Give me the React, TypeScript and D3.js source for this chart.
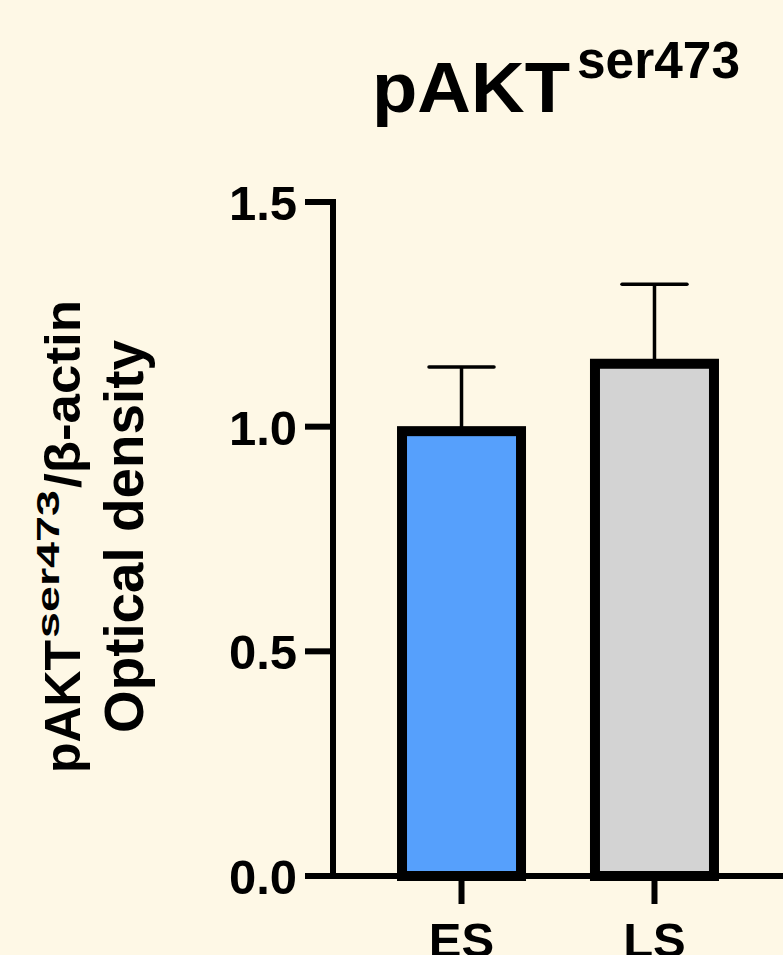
import React from "react";
import * as d3 from "d3";

const categories = ["ES", "LS"];
const means = [0.99, 1.14];
const upperErrors = [1.133, 1.317];
const yTicks = [0.0, 0.5, 1.0, 1.5];
const yTickLabels = ["0.0", "0.5", "1.0", "1.5"];
const barColors = ["#56A0FC", "#D3D3D3"];

const W = 783;
const H = 955;
const FONT = "'Liberation Sans', Arial, Helvetica, sans-serif";

export default function App() {
  const y = d3.scaleLinear().domain([0, 1.5]).range([876, 202]);
  const x = d3.scalePoint<string>().domain(categories).range([333, 783]).padding(0.666);
  const barW = 119;
  const capW = 65;
  const axisX = 333;
  const baseY = y(0);

  return (
    <svg
      width={W}
      height={H}
      style={{ position: "fixed", left: 0, top: 0, display: "block" }}
      fontFamily={FONT}
    >
      <rect x={0} y={0} width={W} height={H} fill="#FEF8E6" />

      {/* Title */}
      <text x={372} y={112} fontSize={71} fontWeight="bold" textLength={198} lengthAdjust="spacingAndGlyphs">
        pAKT
      </text>
      <text x={577} y={78} fontSize={51} fontWeight="bold" textLength={163} lengthAdjust="spacingAndGlyphs">
        ser473
      </text>

      {/* Y axis title, line 1 */}
      <g transform="translate(80,773) rotate(-90)">
        <text x={0} y={0} fontSize={50} fontWeight="bold" textLength={133} lengthAdjust="spacingAndGlyphs">
          pAKT
        </text>
        <text x={135} y={-21} fontSize={32} fontWeight="bold" textLength={148} lengthAdjust="spacingAndGlyphs">
          ser473
        </text>
        <text x={285} y={0} fontSize={50} fontWeight="bold" textLength={188} lengthAdjust="spacingAndGlyphs">
          /β-actin
        </text>
      </g>
      {/* Y axis title, line 2 */}
      <g transform="translate(143,733) rotate(-90)">
        <text x={0} y={0} fontSize={55} fontWeight="bold" textLength={393} lengthAdjust="spacingAndGlyphs">
          Optical density
        </text>
      </g>

      {/* Error bars (upper only) */}
      {categories.map((c, i) => {
        const cx = x(c) as number;
        return (
          <g key={"err" + c} stroke="#000" strokeWidth={3.5} fill="none">
            <line x1={cx} x2={cx} y1={y(means[i])} y2={y(upperErrors[i])} />
            <line x1={cx - capW / 2} x2={cx + capW / 2} y1={y(upperErrors[i])} y2={y(upperErrors[i])} strokeLinecap="round" />
          </g>
        );
      })}

      {/* Bars */}
      {categories.map((c, i) => {
        const cx = x(c) as number;
        return (
          <rect
            key={"bar" + c}
            x={cx - barW / 2}
            y={y(means[i])}
            width={barW}
            height={baseY - y(means[i])}
            fill={barColors[i]}
            stroke="#000"
            strokeWidth={10}
          />
        );
      })}

      {/* Y axis */}
      <line x1={axisX} x2={axisX} y1={199} y2={baseY + 3} stroke="#000" strokeWidth={6} />
      {yTicks.map((t, i) => (
        <g key={"yt" + i}>
          <line x1={305} x2={axisX} y1={y(t)} y2={y(t)} stroke="#000" strokeWidth={6} />
          <text x={297} y={y(t) + 18} textAnchor="end" fontSize={49} fontWeight="bold">
            {yTickLabels[i]}
          </text>
        </g>
      ))}

      {/* X axis */}
      <line x1={axisX - 3} x2={W} y1={baseY} y2={baseY} stroke="#000" strokeWidth={6} />
      {categories.map((c) => {
        const cx = x(c) as number;
        return (
          <g key={"xt" + c}>
            <line x1={cx} x2={cx} y1={baseY} y2={904} stroke="#000" strokeWidth={6} />
            <text x={cx} y={957} textAnchor="middle" fontSize={49} fontWeight="bold">
              {c}
            </text>
          </g>
        );
      })}
    </svg>
  );
}
